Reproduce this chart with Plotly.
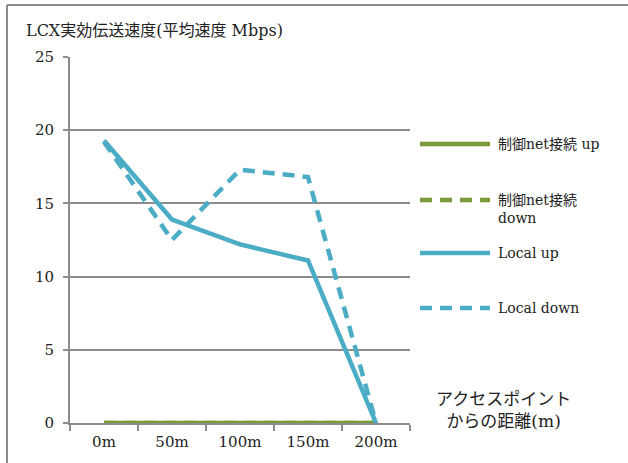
import plotly.graph_objects as go

categories = ["0m", "50m", "100m", "150m", "200m"]
ctrl_up = [0, 0, 0, 0, 0]
ctrl_down = [0, 0, 0, 0, 0]
local_up = [19.3, 13.9, 12.2, 11.1, 0]
local_down = [19.2, 12.5, 17.3, 16.8, 0]
series_names = ["制御net接続 up", "制御net接続<br>down", "Local up", "Local down"]
y_ticks = [0, 5, 10, 15, 20, 25]

GREEN = "#789A3B"
BLUE = "#4BACC6"
GRID = "#8C8C8C"
TXT = "#222222"
FONT = "DejaVu Serif, Liberation Serif, Noto Sans CJK JP, serif"

series = [
    (ctrl_up, GREEN, "solid"),
    (ctrl_down, GREEN, "12px,8px"),
    (local_up, BLUE, "solid"),
    (local_down, BLUE, "12px,8px"),
]

# plot area in pixels: x 70..410, y 57..423
def px(x):
    return (x - 70) / 340.0

def py(y):
    return (423 - y) / 366.0

legend_y = [144, 200, 253, 308]

fig = go.Figure()
shapes = [
    dict(type="line", xref="paper", yref="paper", x0=px(7), x1=2.0, y0=py(5), y1=py(5),
         line=dict(color=GRID, width=2)),
    dict(type="line", xref="paper", yref="paper", x0=px(7), x1=px(7), y0=py(5), y1=-0.3,
         line=dict(color=GRID, width=2)),
]
annotations = [
    dict(text="LCX実効伝送速度(平均速度 Mbps)", xref="paper", yref="paper",
         x=px(24), y=py(30), xanchor="left", yanchor="middle", showarrow=False,
         font=dict(family=FONT, size=16, color=TXT)),
    dict(text="アクセスポイント<br>からの距離(m)", xref="paper", yref="paper",
         x=px(503), y=py(410), xanchor="center", yanchor="middle", showarrow=False,
         font=dict(family=FONT, size=17, color=TXT)),
]

for (vals, col, dash), name, ly in zip(series, series_names, legend_y):
    fig.add_trace(go.Scatter(
        x=categories, y=vals, mode="lines", name=name, showlegend=False,
        line=dict(color=col, width=4.5, dash=dash),
    ))
    shapes.append(dict(type="line", xref="paper", yref="paper",
                       x0=px(420), x1=px(490), y0=py(ly), y1=py(ly),
                       line=dict(color=col, width=4.5, dash=dash)))
    annotations.append(dict(text=name, xref="paper", yref="paper",
                            x=px(496), y=py(ly - 10), xanchor="left", yanchor="top",
                            align="left", showarrow=False,
                            font=dict(family=FONT, size=14, color=TXT)))

fig.update_layout(
    width=628, height=463,
    margin=dict(l=70, r=218, t=57, b=40),
    paper_bgcolor="white", plot_bgcolor="white",
    font=dict(family=FONT, size=15, color=TXT),
    showlegend=False,
    xaxis=dict(
        type="category", range=[-0.5, 4.5],
        showline=True, linecolor=GRID, linewidth=2,
        ticks="outside", tickson="boundaries", ticklen=6, tickcolor=GRID, tickwidth=1.5,
        showgrid=False, tickfont=dict(size=15), ticklabelstandoff=4, fixedrange=True,
    ),
    yaxis=dict(
        range=[0, 25], tickvals=y_ticks,
        showline=True, linecolor=GRID, linewidth=2,
        ticks="outside", ticklen=5, tickcolor=GRID, tickwidth=1.5,
        showgrid=True, gridcolor=GRID, gridwidth=1.5,
        zeroline=False, tickfont=dict(size=15), ticklabelstandoff=6,
    ),
    annotations=annotations,
    shapes=shapes,
)

fig.write_html("out.html")
